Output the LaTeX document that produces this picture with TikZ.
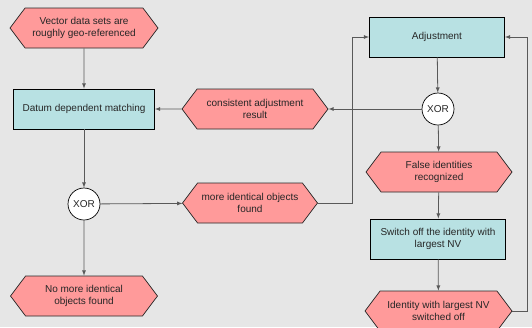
\documentclass[tikz,border=0pt]{standalone}
\usepackage{fontspec}
\setmainfont{Liberation Sans}
\usepackage{tikz}
\usetikzlibrary{arrows,shapes.symbols,calc}
\definecolor{evpink}{HTML}{FF9A9A}
\definecolor{fnblue}{HTML}{B8E1E3}
\definecolor{bggray}{HTML}{E6E6E6}
\tikzset{
  event/.style={signal, signal to=east and west, signal pointer angle=106,
    draw=black!85, fill=evpink, line width=0.7pt, minimum height=40pt,
    inner sep=0pt, align=center, text=black!85},
  func/.style={rectangle, draw=black, fill=fnblue, line width=0.8pt,
    minimum height=40pt, inner sep=0pt, align=center, text=black!85},
  xor/.style={circle, draw=black, fill=white, line width=0.7pt,
    minimum size=32pt, inner sep=0pt, text=black!85},
  flow/.style={draw=black!65, line width=0.8pt, -latex}
}
\begin{document}
\begin{tikzpicture}[x=1pt,y=-1pt,font=\fontsize{10}{12}\selectfont]
  \fill[bggray] (0,0) rectangle (532,327);
  \useasboundingbox (0,0) rectangle (532,327);
  \begin{scope}
  \clip (0,0) rectangle (532,327);
  % left column
  \node[event, minimum width=148pt] (Vec) at (84,28) {Vector data sets are\\roughly geo-referenced};
  \node[func, minimum width=141pt] (Datum) at (84,109) {Datum dependent matching};
  \node[xor] (XorL) at (84,204) {XOR};
  \node[event, minimum width=147pt] (NoMore) at (84,296) {No more identical\\objects found};
  % middle
  \node[event, minimum width=146pt] (Consist) at (255,109) {consistent adjustment\\result};
  \node[event, minimum width=135pt] (More) at (250,203) {more identical objects\\found};
  % right column
  \node[func, minimum width=135pt] (Adj) at (437,37) {Adjustment};
  \node[xor] (XorR) at (438,109) {XOR};
  \node[event, minimum width=146pt] (False) at (439,172) {False identities\\recognized};
  \node[func, minimum width=135pt] (Switch) at (438,239) {Switch off the identity with\\largest NV};
  \node[event, minimum width=147pt] (Ident) at (438.5,311) {Identity with largest NV\\switched off};
  \draw[flow] (Vec) -- (Datum);
  \draw[flow] (Datum) -- (XorL);
  \draw[flow] (XorL) -- (NoMore);
  \draw[flow] (XorL) -- (More);
  \draw[flow] (Consist) -- (Datum);
  \draw[flow] (XorR) -- (Consist.east);
  \draw[flow] (Adj) -- (XorR);
  \draw[flow] (XorR) -- (False);
  \draw[flow] (False) -- (Switch);
  \draw[flow] (Switch) -- (Ident);
  \draw[flow] (More.east) -- ([xshift=34pt]More.east) |- (Adj.west);
  \draw[flow] (Ident.east) -- ([xshift=15pt]Ident.east) |- (Adj.east);
  \end{scope}
\end{tikzpicture}
\end{document}
